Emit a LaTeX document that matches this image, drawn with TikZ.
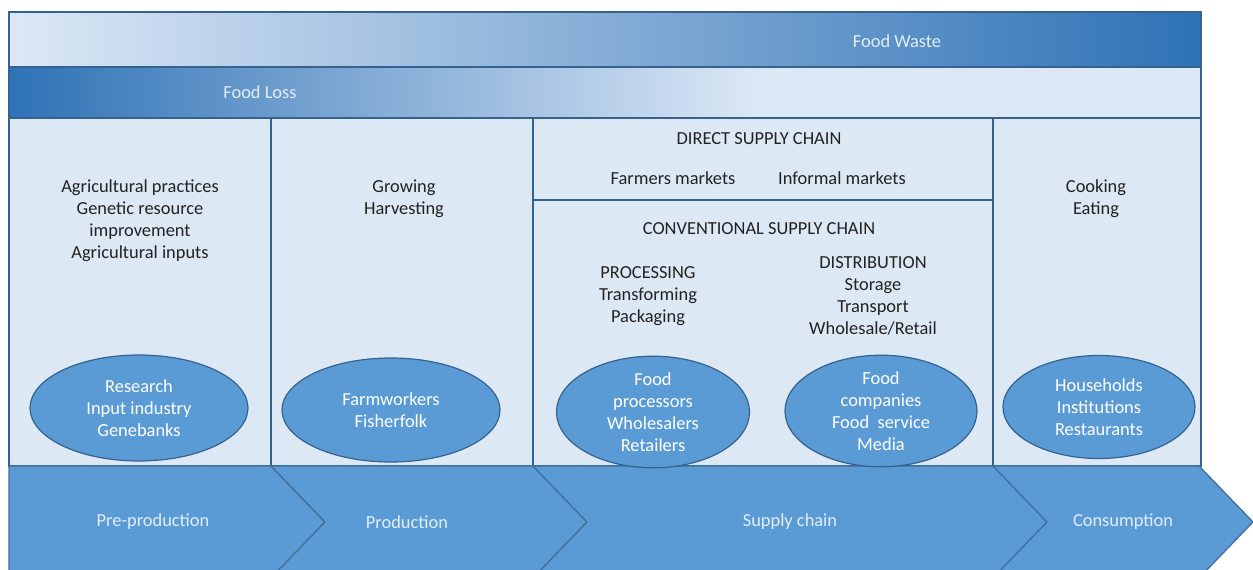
\documentclass[tikz,border=0pt]{standalone}
\usepackage{fontspec}
\setmainfont{Carlito}
\usetikzlibrary{shapes.geometric}
\definecolor{panel}{HTML}{DDE8F5}
\definecolor{edge}{HTML}{35628F}
\definecolor{chevedge}{HTML}{41719C}
\definecolor{mid}{HTML}{5B9BD5}
\definecolor{dark}{HTML}{2E72B6}
\definecolor{midblue}{HTML}{9ABDE2}
\definecolor{pale}{HTML}{DCE8F6}
\definecolor{ink}{HTML}{222222}
\definecolor{lite}{HTML}{E2EDF8}
\tikzset{
  panelbox/.style={draw=edge,line width=1.6pt,fill=panel},
  barframe/.style={draw=edge,line width=1.6pt},
  chev/.style={draw=chevedge,line width=1.3pt,fill=mid},
  oval/.style={ellipse,draw=edge,line width=1.2pt,fill=mid,text=white,align=center,
    inner sep=0pt,minimum width=194pt,minimum height=100pt,font=\fontsize{18.4}{22}\selectfont},
  txt/.style={text=ink,align=center,font=\fontsize{18.4}{22}\selectfont,inner sep=0pt},
  lighttxt/.style={text=lite,align=center,font=\fontsize{18.4}{22}\selectfont,inner sep=0pt},
}
\begin{document}
\begin{tikzpicture}[x=1pt,y=-1pt]
\useasboundingbox (0,0) rectangle (1253,570);
\clip (0,0) rectangle (1253,570);
\fill[white] (0,0) rectangle (1253,570);
% top bars
\shade[left color=pale,middle color=midblue,right color=dark] (9,12) rectangle (1201,67);
\draw[barframe] (9,12) rectangle (1201,67);
\shade[left color=dark,right color=pale] (9,67) rectangle (760,118);
\fill[pale] (759,67) rectangle (1201,118);
\draw[barframe] (9,67) rectangle (1201,118);
\node[lighttxt] (waste) at (897,41) {Food Waste};
\node[lighttxt] (loss) at (260,92) {Food Loss};
% panels
\draw[panelbox] (9,118) rectangle (271,466);
\draw[panelbox] (271,118) rectangle (533,466);
\draw[panelbox] (533,118) rectangle (993,200);
\draw[panelbox] (533,200) rectangle (993,466);
\draw[panelbox] (993,118) rectangle (1201,466);
% chevrons
\draw[chev] (9,466) -- (271,466) -- (325,522) -- (271,578) -- (9,578) -- cycle;
\draw[chev] (271,466) -- (533,466) -- (587,522) -- (533,578) -- (271,578) -- (325,522) -- cycle;
\draw[chev] (533,466) -- (993,466) -- (1047,522) -- (993,578) -- (533,578) -- (587,522) -- cycle;
\draw[chev] (993,466) -- (1199,466) -- (1253,522) -- (1199,578) -- (993,578) -- (1047,522) -- cycle;
\node[lighttxt] (pre) at (153,522) {Pre-production};
\node[lighttxt] (prod) at (407,522) {Production};
\node[lighttxt] (supply) at (790,522) {Supply chain};
\node[lighttxt] (cons) at (1123,522) {Consumption};
% column texts
\node[txt] (ag) at (140,221) {Agricultural practices\\Genetic resource\\improvement\\Agricultural inputs};
\node[txt] (grow) at (404,199) {Growing\\Harvesting};
\node[txt] (cook) at (1096,199) {Cooking\\Eating};
\node[txt] (direct) at (759,139) {DIRECT SUPPLY CHAIN};
\node[txt] (farmers) at (673,178) {Farmers markets};
\node[txt] (informal) at (842,178) {Informal markets};
\node[txt] (conv) at (759,229) {CONVENTIONAL SUPPLY CHAIN};
\node[txt] (proc) at (648,296) {PROCESSING\\Transforming\\Packaging};
\node[txt] (dist) at (873,296) {DISTRIBUTION\\Storage\\Transport\\Wholesale/Retail};
% ellipses
\node[oval,minimum width=218pt,minimum height=106pt] (research) at (139,408) {Research\\Input industry\\Genebanks};
\node[oval,minimum width=218pt,minimum height=104pt] (farmw) at (391,410) {Farmworkers\\Fisherfolk};
\node[oval,minimum width=193pt,minimum height=94pt] (procs) at (653,412) {Food\\processors\\Wholesalers\\Retailers};
\node[oval,minimum width=192pt,minimum height=100pt] (comp) at (881,411) {Food\\companies\\Food~ service\\Media};
\node[oval,minimum width=192pt,minimum height=103pt] (house) at (1099,407) {Households\\Institutions\\Restaurants};
\end{tikzpicture}
\end{document}
